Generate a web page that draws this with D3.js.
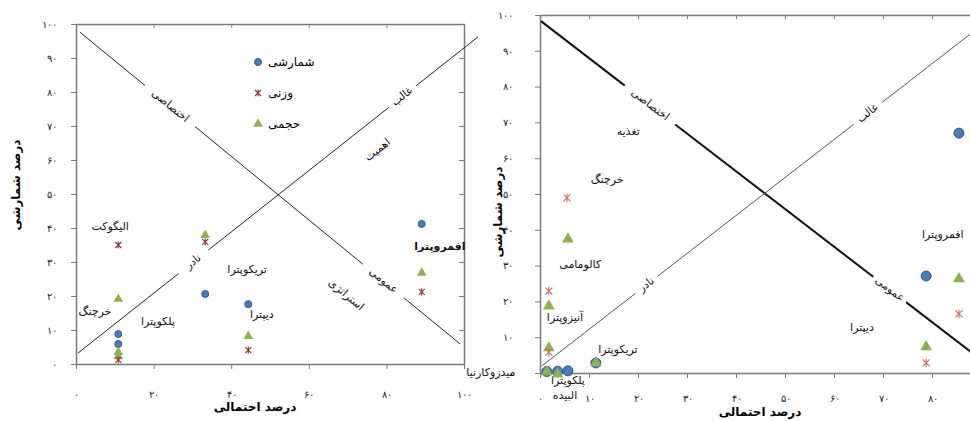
<!DOCTYPE html>
<html>
<head>
<meta charset="utf-8">
<script src="https://cdn.jsdelivr.net/npm/d3@7"></script>
<style>
  body { margin: 0; background: #fff; }
  svg { display: block; font-family: "DejaVu Sans", sans-serif; }
  .tick text { font-size: 10px; fill: #222; }
  .lbl { font-size: 11px; fill: #111; }
</style>
</head>
<body>
<div id="graph"></div>
<script>
// ---- data ----
const xTicksLeft = [0, 20, 40, 60, 80, 100];
const yTicks = [0, 10, 20, 30, 40, 50, 60, 70, 80, 90, 100];
// the right panel is cropped at 80 in the picture
const xTicksRight = [0, 10, 20, 30, 40, 50, 60, 70, 80];

// left panel: [درصد احتمالی, درصد شمارشی]
const leftCount  = [[10.9, 8.8], [10.9, 5.9], [33.3, 20.6], [44.4, 17.6], [89.1, 41.2]];
const leftWeight = [[10.9, 35], [10.9, 1.2], [33.3, 35.9], [44.4, 4.1], [89.1, 21.2]];
const leftVolume = [[10.9, 19.1], [10.9, 3.5], [10.9, 2.2], [33.3, 37.9], [44.4, 8.2], [89.1, 26.8]];

// right panel
const rightCount  = [[1.4, 0.4], [3.6, 0.5], [5.7, 0.6], [11.4, 2.8], [78.8, 27.1], [85.5, 67]];
const rightWeight = [[5.5, 48.9], [1.8, 22.9], [1.8, 5.8], [78.8, 2.8], [85.5, 16.5]];
const rightVolume = [[5.7, 37.4], [1.8, 18.7], [1.8, 7], [11.4, 2.8], [1.4, 0.3], [3.6, -0.3], [78.8, 7.3], [85.5, 26.3]];

// quadrant lines: end points, gaps and the word sitting in each gap
const leftLines = [
  {p0: [1, 97.6], p1: [99, 5.9], width: 1, color: "#222",
   gaps: [[17.8, 30.7, "اختصاصی"], [73.9, 84.5, "عمومی"]]},
  {p0: [0.5, 3.2], p1: [103.6, 96.2], width: 1, color: "#222",
   gaps: [[26.4, 34.1, "نادر"], [80.6, 87.6, "غالب"]]}
];
const rightLines = [
  {p0: [0.2, 98.3], p1: [93.5, 0], width: 2, color: "#111",
   gaps: [[17.3, 27.6, "اختصاصی"], [68, 74.7, "عمومی"]]},
  {p0: [0.4, 2], p1: [90, 97], width: 1, color: "#555",
   gaps: [[19.5, 24, "نادر"], [64, 69.8, "غالب"]]}
];

// free text: [x, y, text, anchor, rotate, bold]
const leftNotes = [
  [8.8, 40.3, "الیگوکت"], [4.9, 15.3, "خرچنگ"], [21.1, 12.4, "پلکوپترا"],
  [44.1, 27.6, "تریکوپترا"], [47.9, 14.4, "دیپترا"], [93.8, 34.4, "افمروپترا", "middle", 0, true],
  [77.8, 62.9, "اهمیت", "middle", -38], [69.6, 20.3, "استراتژی", "middle", 40]
];
const rightNotes = [
  [18, 67.3, "تغذیه"], [13.7, 53.9, "خرچنگ"], [8.2, 30.2, "کالومامی"],
  [5.1, 15.4, "آنیزوپترا"], [15.9, 6.4, "تریکوپترا"], [-5, 0, "میدزوکارنیا", "end"],
  [5.7, -2.2, "پلکوپترا"], [5.1, -6.3, "البیده"], [82.2, 38.5, "افمروپترا"], [65.7, 12.6, "دیپترا"]
];

const legendItems = ["شمارشی", "وزنی", "حجمی"];

const w = 970;
const h = 421;
const faDigits = "۰۱۲۳۴۵۶۷۸۹";
const fa = d => String(d).replace(/\d/g, c => faDigits[c]);

const svg = d3.select("#graph").
append("svg").
attr("width", w).
attr("height", h);

function star(g, x, y, s) {
  g.append("path").
  attr("d", "M" + (x - s) + "," + (y - s) + "L" + (x + s) + "," + (y + s) +
    "M" + (x - s) + "," + (y + s) + "L" + (x + s) + "," + (y - s) +
    "M" + x + "," + (y - s * 1.2) + "L" + x + "," + (y + s * 1.2));
}

function drawPanel(p) {
  const xScale = d3.scaleLinear().domain([0, 100]).range(p.xRange);
  const yScale = d3.scaleLinear().domain([0, 100]).range(p.yRange);
  const g = svg.append("g");

  // axes
  const ax = g.append("g").
  attr("transform", "translate(0," + yScale(0) + ")").
  call(d3.axisBottom(xScale).tickValues(p.xTicks).tickSizeInner(5).tickSizeOuter(0).tickPadding(p.xPad).tickFormat(fa));
  const ay = g.append("g").
  attr("transform", "translate(" + xScale(0) + ",0)").
  call(d3.axisLeft(yScale).tickValues(yTicks).tickSizeInner(5).tickSizeOuter(0).tickPadding(p.yPad).tickFormat(fa));
  const at = g.append("g").
  attr("transform", "translate(0," + yScale(100) + ")").
  call(d3.axisTop(xScale).tickValues(p.xTicks).tickSizeInner(-4).tickSizeOuter(0).tickFormat(""));
  const axes = [ax, ay, at];
  if (p.rightAxis) {
    axes.push(g.append("g").
    attr("transform", "translate(" + xScale(100) + ",0)").
    call(d3.axisRight(yScale).tickValues(yTicks).tickSizeInner(-5).tickSizeOuter(0).tickFormat("")));
  }
  axes.forEach(a => {
    a.select(".domain").attr("stroke", "#7a7a7a").attr("stroke-width", 1.5);
    a.selectAll(".tick line").attr("stroke", "#7a7a7a");
  });

  // quadrant lines with gaps and their words
  const line = d3.line().x(d => xScale(d[0])).y(d => yScale(d[1]));
  p.lines.forEach(l => {
    const yAt = xv => l.p0[1] + (l.p1[1] - l.p0[1]) * (xv - l.p0[0]) / (l.p1[0] - l.p0[0]);
    const cuts = [l.p0[0]];
    l.gaps.forEach(gp => { cuts.push(gp[0], gp[1]); });
    cuts.push(l.p1[0]);
    for (let i = 0; i < cuts.length; i += 2) {
      g.append("path").
      attr("d", line([[cuts[i], yAt(cuts[i])], [cuts[i + 1], yAt(cuts[i + 1])]])).
      attr("stroke", l.color).
      attr("stroke-width", l.width).
      attr("fill", "none");
    }
    const ang = Math.atan2(yScale(l.p1[1]) - yScale(l.p0[1]), xScale(l.p1[0]) - xScale(l.p0[0])) * 180 / Math.PI;
    l.gaps.forEach(gp => {
      const mx = (gp[0] + gp[1]) / 2;
      g.append("text").
      attr("class", "lbl").
      attr("text-anchor", "middle").
      attr("dominant-baseline", "middle").
      attr("transform", "translate(" + xScale(mx) + "," + yScale(yAt(mx)) + ") rotate(" + ang + ")").
      text(gp[2]);
    });
  });

  // notes
  p.notes.forEach(n => {
    g.append("text").
    attr("class", "lbl").
    attr("text-anchor", n[3] || "middle").
    attr("dominant-baseline", "middle").
    attr("font-weight", n[5] ? "bold" : null).
    attr("font-size", n[5] ? "13px" : null).
    attr("transform", "translate(" + xScale(n[0]) + "," + yScale(n[1]) + ") rotate(" + (n[4] || 0) + ")").
    text(n[2]);
  });

  // points
  g.selectAll("circle.cnt").
  data(p.count).
  enter().
  append("circle").
  attr("cx", d => xScale(d[0])).
  attr("cy", d => yScale(d[1])).
  attr("r", p.r).
  attr("fill", "#4a7ebb").
  attr("stroke", "#2f5a8f").
  attr("stroke-width", 1);

  g.selectAll("path.vol").
  data(p.volume).
  enter().
  append("path").
  attr("d", d3.symbol(d3.symbolTriangle, p.tri)).
  attr("transform", d => "translate(" + xScale(d[0]) + "," + yScale(d[1]) + ")").
  attr("fill", "#8fb04f");

  const sg = g.append("g").attr("stroke", p.starColor).attr("stroke-width", 1.1).attr("fill", "none");
  p.weight.forEach(d => star(sg, xScale(d[0]), yScale(d[1]), p.s));

  // axis titles
  g.append("text").
  attr("transform", "translate(" + p.yTitle[0] + "," + p.yTitle[1] + ") rotate(-90)").
  attr("text-anchor", "middle").
  attr("font-size", "12px").
  attr("font-weight", "bold").
  text("درصد شمارشی");
  g.append("text").
  attr("transform", "translate(" + p.xTitle[0] + "," + p.xTitle[1] + ")").
  attr("text-anchor", "middle").
  attr("font-size", "12px").
  attr("font-weight", "bold").
  text("درصد احتمالی");

  return {xScale, yScale};
}

drawPanel({
  xRange: [76, 464], yRange: [364, 24], xTicks: xTicksLeft, xPad: 22, yPad: 14,
  rightAxis: true, lines: leftLines, notes: leftNotes,
  count: leftCount, weight: leftWeight, volume: leftVolume,
  r: 3.5, tri: 40, s: 3, starColor: "#8e3535",
  yTitle: [20, 185], xTitle: [255, 411]
});

drawPanel({
  xRange: [540, 1030], yRange: [373, 15], xTicks: xTicksRight, xPad: 17, yPad: 22,
  rightAxis: false, lines: rightLines, notes: rightNotes,
  count: rightCount, weight: rightWeight, volume: rightVolume,
  r: 5, tri: 60, s: 3.5, starColor: "#d06a6a",
  yTitle: [502, 212], xTitle: [760, 416]
});

// legend of the left panel
const legend = svg.append("g");
legendItems.forEach((t, i) => {
  const ly = 62 + i * 31;
  if (i === 0) {
    legend.append("circle").attr("cx", 258).attr("cy", ly).attr("r", 3.5).attr("fill", "#4a7ebb").attr("stroke", "#2f5a8f");
  } else if (i === 1) {
    const sg = legend.append("g").attr("stroke", "#8e3535").attr("stroke-width", 1.1);
    star(sg, 258, ly, 3);
  } else {
    legend.append("path").attr("d", d3.symbol(d3.symbolTriangle, 40)).attr("transform", "translate(258," + ly + ")").attr("fill", "#8fb04f");
  }
  legend.append("text").
  attr("x", 268).
  attr("y", ly).
  attr("dominant-baseline", "middle").
  attr("font-size", "12px").
  text(t);
});
</script>
</body>
</html>
